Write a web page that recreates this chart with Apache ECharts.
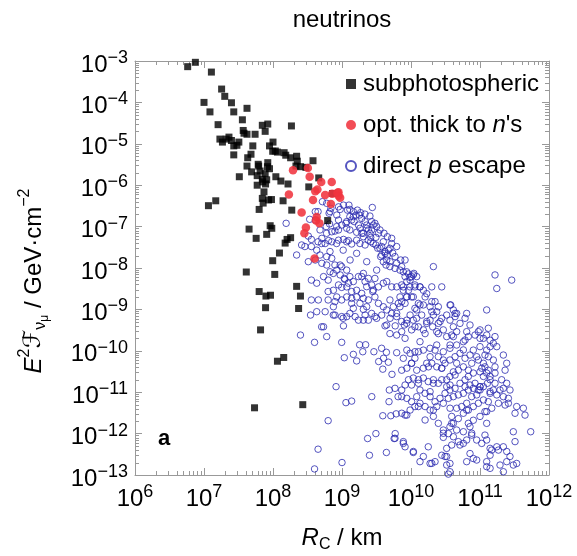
<!DOCTYPE html>
<html>
<head>
<meta charset="utf-8">
<script src="https://cdn.jsdelivr.net/npm/echarts@6/dist/echarts.min.js"></script>
<style>html,body{margin:0;padding:0;background:#fff}#chart{width:577px;height:556px}</style>
</head>
<body>
<div id="chart"></div>
<script>
// ---- data (R_C in km, E^2 F in GeV cm^-2) ----
const xTickExponents = [6, 7, 8, 9, 10, 11, 12];
const yTickExponents = [-13, -12, -11, -10, -9, -8, -7, -6, -5, -4, -3];
const seriesNames = ['subphotospheric', "opt. thick to n's", 'direct p escape'];

const subphotospheric = [
[5.8e6,7.3e-4],[7.5e6,9.3e-4],[1.28e7,5.4e-4],[1.8e7,2.1e-4],[2.0e7,1.4e-4],[2.5e7,9.8e-5],[2.7e7,5.9e-5],[1.0e7,1.0e-4],[1.22e7,5.9e-5],[1.6e7,2.9e-5],
[4.2e7,7.2e-5],[3.6e7,3.8e-5],[1.7e7,1.3e-5],[1.85e7,1.1e-5],[2.1e7,1.3e-5],[2.3e7,1.45e-5],[2.5e7,1.2e-5],[2.7e7,8.9e-6],[3.0e7,9.2e-6],[3.2e7,1.1e-5],
[3.7e7,2.1e-5],[3.8e7,1.8e-5],[4.2e7,1.7e-5],[2.7e7,5.4e-6],[4.2e7,2.9e-6],[4.3e7,4.6e-6],[4.8e7,5.6e-6],[5.1e7,8.9e-6],[5.5e7,1.7e-5],[7.0e7,2.8e-5],
[8.4e7,3.0e-5],[7.7e7,2.0e-5],[1.85e8,2.7e-5],[8.9e7,8.9e-6],[1.0e8,1.1e-5],[9.9e7,6.6e-6],[1.08e8,6.7e-6],[1.16e8,6.3e-6],[1.45e8,6.1e-6],[1.53e8,5.3e-6],
[1.8e8,4.6e-6],[2.2e8,5.0e-6],[2.25e8,3.8e-6],[2.15e8,2.9e-6],[2.5e8,2.8e-6],[3.0e8,2.7e-6],[3.8e8,3.9e-6],[3.25e7,1.6e-6],[4.9e7,2.1e-6],[5.9e7,1.7e-6],
[6.1e7,3.2e-6],[6.2e7,2.9e-6],[6.5e7,2.2e-6],[8.4e7,3.5e-6],[8.3e7,2.8e-6],[8.9e7,2.5e-6],[7.7e7,1.9e-6],[7.0e7,1.4e-6],[7.1e7,1.2e-6],[7.8e7,1.07e-6],
[8.1e7,1.35e-6],[7.4e7,6.9e-7],[5.9e7,1.0e-6],[1.1e8,1.6e-6],[1.3e8,1.26e-6],[1.65e8,1.07e-6],[9.5e7,4.5e-7],[8.6e7,4.4e-7],[7.2e7,3.7e-7],[7.0e7,4.8e-7],
[1.4e8,4.2e-7],[6.3e7,2.6e-7],[3.3e8,9.1e-7],[4.6e8,1.5e-6],[1.87e8,2.5e-7],[1.16e7,3.2e-7],[1.48e7,4.2e-7],[4.5e7,8.7e-8],[5.7e7,5.2e-8],[8.1e7,6.5e-8],
[9.1e7,1.05e-7],[9.6e7,9.1e-8],[1.6e8,4.9e-8],[1.8e8,5.4e-8],[1.5e8,4.0e-8],[1.24e8,2.3e-8],[9.9e7,1.5e-8],[4.1e7,8.0e-9],[1.06e8,7.0e-9],[2.2e8,3.6e-9],
[2.5e8,2.1e-9],[6.3e7,2.7e-9],[7.9e7,2.1e-9],[9.2e7,2.2e-9],[6.2e8,1.4e-7],[7.3e8,6.3e-7],[7.8e7,1.1e-9],[2.35e8,1.05e-9],[6.6e7,3.2e-10],[1.16e8,5.6e-11],
[1.43e8,6.9e-11],[5.4e7,4.2e-12],[2.7e8,5.0e-12]
];

const optThickToNeutrons = [
[1.95e8,2.3e-6],[3.2e8,2.6e-6],[3.4e8,1.6e-6],[5.0e8,1.2e-6],[7.1e8,1.2e-6],[4.1e8,7.1e-7],[4.4e8,7.9e-7],[1.7e8,6.0e-7],[7.2e8,6.2e-7],[8.9e8,6.8e-7],
[9.4e8,5.0e-7],[6.9e8,3.5e-7],[3.8e8,4.4e-7],[2.6e8,2.2e-7],[4.3e8,1.7e-7],[4.7e8,1.2e-7],[4.2e8,1.4e-7],[3.0e8,9.5e-8],[2.85e8,6.9e-8],[4.0e8,1.7e-8],
[5.7e8,5.8e-7],[8.6e8,6.6e-7],[8.9e8,5.6e-7]
];

const directProtonEscape = [
[5.2e8,4.0e-7],[6.0e8,3.65e-7],[6.9e8,2.76e-7],[8.9e8,3.0e-7],[9.4e8,2.6e-7],[1.05e9,3.3e-7],[1.26e9,3.3e-7],[1.2e9,2.5e-7],[1.3e9,2.6e-7],[1.46e9,2.3e-7],
[1.67e9,2.5e-7],[1.6e9,1.9e-7],[1.79e9,1.9e-7],[1.93e9,1.58e-7],[2.16e9,1.32e-7],[2.28e9,9.1e-8],[2.41e9,8.3e-8],[2.69e9,8.3e-8],[2.84e9,1.09e-7],[2.75e9,2.9e-7],
[4.5e8,2.3e-7],[4.1e8,2.3e-7],[6.7e8,2.3e-7],[6.5e8,2.1e-7],[8.4e8,1.9e-7],[8.9e8,1.44e-7],[1.3e9,1.74e-7],[1.38e9,1.44e-7],[1.5e9,1.32e-7],[1.73e9,1.09e-7],
[1.82e9,9.1e-8],[1.14e9,1.2e-7],[9.9e8,1.09e-7],[1.17e9,9.1e-8],[1.3e9,8.3e-8],[6.6e8,1.16e-7],[5.9e8,1.0e-7],[4.8e8,8.3e-8],[7.1e8,7.5e-8],[7.9e8,7.8e-8],
[8.9e8,8.3e-8],[1.63e9,7.3e-8],[1.93e9,6.9e-8],[2.04e9,5.7e-8],[2.61e9,5.5e-8],[3.1e9,5.5e-8],[3.37e9,6.9e-8],[2.55e9,6.9e-8],[3.4e8,1.5e-7],[4.1e8,1.44e-7],
[1.55e8,1.2e-7],[3.25e8,5.9e-8],[3.6e8,4.9e-8],[4.5e8,4.3e-8],[5.1e8,5.2e-8],[5.7e8,3.9e-8],[6.4e8,4.6e-8],[7.1e8,4.3e-8],[8.9e8,4.7e-8],[1.05e9,4.9e-8],
[1.24e9,4.6e-8],[1.38e9,3.8e-8],[1.63e9,4.7e-8],[1.82e9,3.9e-8],[2.16e9,3.6e-8],[2.61e9,4.3e-8],[3.1e9,3.6e-8],[3.29e9,3.0e-8],[3.76e9,3.3e-8],[3.97e9,4.3e-8],
[5.25e9,5.2e-8],[4.7e9,2.7e-8],[5.43e9,2.3e-8],[4.2e9,2.26e-8],[3.76e9,2.06e-8],[4.45e9,1.56e-8],[4.97e9,1.42e-8],[5.86e9,1.88e-8],[6.2e9,1.3e-8],[7.33e9,1.08e-8],
[7.1e9,1.56e-8],[7.74e9,8.1e-9],[8.2e9,6.2e-9],[9.2e9,7.2e-9],[1.02e10,6.2e-9],[1.1e10,7.4e-9],[9.7e9,5.1e-9],[8.7e9,4.7e-9],[7.33e9,3.9e-9],[6.2e9,3.5e-9],
[5.25e9,3.5e-9],[4.45e9,4.7e-9],[3.97e9,4.3e-9],[3.37e9,3.5e-9],[2.69e9,3.9e-9],[2.41e9,5.6e-9],[2.16e9,4.7e-9],[2.04e9,7.4e-9],[1.73e9,6.2e-9],[1.46e9,4.7e-9],
[1.3e9,6.2e-9],[1.17e9,8.9e-9],[9.9e8,1.08e-8],[7.9e8,1.18e-8],[7.1e8,1.71e-8],[6.0e8,1.88e-8],[4.8e8,2.06e-8],[4.3e8,2.7e-8],[3.6e8,3.3e-8],[2.9e8,3.3e-8],
[2.6e8,3.6e-8],[2.2e8,2.06e-8],[3.25e8,1.42e-8],[4.1e8,1.56e-8],[5.1e8,1.3e-8],[6.0e8,1.18e-8],[6.7e8,8.1e-9],[8.4e8,8.9e-9],[9.4e8,6.8e-9],[1.08e9,5.6e-9],
[1.24e9,4.3e-9],[1.63e9,2.9e-9],[1.38e9,2.7e-9],[1.17e9,3.5e-9],[9.9e8,3.4e-9],[8.9e8,3.9e-9],[6.3e8,5.1e-9],[5.4e8,6.2e-9],[4.3e8,4.3e-9],[3.6e8,5.1e-9],
[7.5e8,2.9e-9],[6.3e8,2.7e-9],[4.3e8,8.8e-10],[5.7e8,8.8e-10],[7.9e8,7.3e-10],[9.9e8,6.7e-10],[1.17e9,6.7e-10],[1.3e9,8.0e-10],[1.55e9,6.7e-10],[1.73e9,5.5e-10],
[2.04e9,5.5e-10],[2.16e9,7.3e-10],[2.41e9,5.5e-10],[1.82e9,1.4e-9],[2.04e9,1.85e-9],[1.63e9,2.0e-9],[1.38e9,1.4e-9],[9.9e8,1.69e-9],[1.17e9,2.0e-9],[8.4e8,2.0e-9],
[7.5e8,1.16e-9],[6.3e8,1.69e-9],[3.6e8,1.69e-9],[3.5e8,7.3e-10],
[7.33e9,2.9e-10],[8.0e9,4.2e-10],[8.7e9,5.5e-10],[9.7e9,7.3e-10],[1.21e10,6.1e-10],[1.28e10,3.8e-10],[1.51e10,3.2e-10],[1.69e10,4.6e-10],[1.89e10,5.5e-10],[2.06e10,3.8e-10],
[1.43e10,7.3e-10],[1.14e10,1.06e-9],[1.28e10,1.4e-9],[1.51e10,1.28e-9],[1.6e10,2.0e-9],[1.89e10,1.16e-9],[2.11e10,7.3e-10],[2.36e10,8.8e-10],[2.49e10,1.16e-9],[2.0e10,1.54e-9],
[1.69e10,2.4e-9],[1.51e10,2.9e-9],[1.35e10,3.5e-9],[1.14e10,3.5e-9],[9.2e9,2.9e-9],[8.7e9,2.0e-9],[7.33e9,1.54e-9],[6.93e9,1.16e-9],[6.2e9,8.0e-10],[4.97e9,6.1e-10],
[4.45e9,9.7e-10],[3.97e9,1.16e-9],[3.37e9,1.4e-9],[3.0e9,2.0e-9],[2.79e9,2.7e-9],[2.41e9,1.69e-9],[2.28e9,1.16e-9],[2.69e9,8.0e-10],[3.0e9,6.7e-10],[3.76e9,7.3e-10],
[2.79e10,3.5e-9],[2.11e10,1.08e-8],[3.76e10,1.28e-9],[4.11e10,9.7e-10],[4.35e10,6.7e-10],[3.67e10,5.5e-10],[3.29e10,7.3e-10],[2.79e10,6.1e-10],[2.49e10,4.6e-10],[2.36e10,2.9e-10],
[2.94e10,3.2e-10],[3.29e10,2.2e-10],[3.89e10,2.4e-10],[4.59e10,2.9e-10],[5.13e10,4.6e-10],[6.07e10,6.1e-10],[6.41e10,8.0e-10],[4.59e10,8.0e-10],[7.16e10,4.2e-10],[1.0e11,3.2e-10],
[8.47e10,2.4e-10],[6.78e10,2.2e-10],[5.74e10,1.66e-10],[4.59e10,1.38e-10],[3.67e10,1.15e-10],[2.94e10,9.5e-11],[2.49e10,7.2e-11],[2.23e10,1.04e-10],[1.89e10,1.15e-10],[1.51e10,1.04e-10],
[1.28e10,9.5e-11],[1.14e10,6.6e-11],[9.7e9,8.7e-11],[8.7e9,1.04e-10],[7.74e9,6.6e-11],[7.33e9,3.4e-11],[8.7e9,3.8e-11],[1.02e10,5.0e-11],[1.21e10,3.4e-11],[1.51e10,3.8e-11],
[1.69e10,5.0e-11],[2.0e10,5.0e-11],[2.36e10,4.1e-11],[2.79e10,3.8e-11],[3.11e10,5.0e-11],[3.67e10,6.0e-11],[4.35e10,7.2e-11],[5.13e10,8.7e-11],[6.07e10,6.6e-11],[7.16e10,7.9e-11],
[8.0e10,1.04e-10],[1.0e11,1.26e-10],[1.12e11,2.0e-10],[1.25e11,2.4e-10],[1.4e11,1.8e-10],[1.65e11,2.2e-10],[1.75e11,1.26e-10],[1.25e11,9.7e-10],[1.75e11,3.2e-9],[1.65e11,6.8e-9],
[2.88e11,5.1e-9],[9.46e10,6.0e-11],[1.12e11,5.0e-11],[1.32e11,3.4e-11],[1.12e11,2.4e-11],[1.0e11,3.1e-11],[8.0e10,2.9e-11],[6.78e10,3.4e-11],[5.74e10,4.1e-11],[4.85e10,3.4e-11],
[4.11e10,3.1e-11],[3.67e10,2.4e-11],[3.29e10,2.0e-11],[2.79e10,2.0e-11],[2.49e10,1.64e-11],[2.11e10,2.0e-11],[1.78e10,1.8e-11],[1.51e10,2.2e-11],[1.28e10,1.64e-11],[1.08e10,2.2e-11],
[9.2e9,2.0e-11],[8.2e9,1.49e-11],[7.33e9,1.13e-11],[7.33e9,3.1e-12],[8.2e9,4.8e-13],[7.74e9,6.4e-13],[1.08e10,3.5e-13],[1.51e10,2.8e-13],[1.78e10,4.8e-13],[1.89e10,1.9e-13],
[2.79e10,3.0e-13],[3.29e10,2.8e-13],[2.94e10,8.1e-13],[3.29e10,4.4e-13],[3.89e10,5.3e-13],[5.13e10,5.3e-13],[4.11e10,8.4e-13],[5.74e10,5.8e-13],[6.41e10,7.0e-13],[7.57e10,9.2e-13],
[8.95e10,7.0e-13],[1.06e11,5.8e-13],[1.25e11,7.0e-13],[1.48e11,4.0e-13],[1.4e11,3.0e-13],[1.85e11,4.0e-13],[2.18e11,4.8e-13],[2.44e11,3.7e-13],[2.72e11,2.8e-13],[2.44e11,2.1e-13],
[3.04e11,1.74e-13],[3.4e11,1.9e-13],[3.22e11,6.4e-13],[3.04e11,1.11e-12],[3.22e11,3.1e-12],[4.25e11,4.1e-12],[4.49e11,2.8e-12],[5.43e11,1.11e-12],[2.31e11,4.9e-12],[2.58e11,7.1e-12],
[2.18e11,7.8e-12],[1.85e11,5.4e-12],[1.56e11,1.13e-11],[1.65e11,1.64e-11],[1.4e11,2.0e-11],[1.28e11,1.64e-11],[1.12e11,1.36e-11],[1.0e11,1.13e-11],[8.95e10,8.6e-12],[7.57e10,7.8e-12],
[6.41e10,5.4e-12],[5.43e10,4.5e-12],[4.59e10,4.1e-12],[3.89e10,2.6e-12],[4.11e10,1.77e-12],[4.85e10,2.3e-12],[5.74e10,3.1e-12],[6.78e10,3.7e-12],[8.0e10,4.5e-12],[9.46e10,5.4e-12],
[1.12e11,6.5e-12],[1.32e11,5.9e-12],[1.48e11,4.1e-12],[1.18e11,3.4e-12],[1.0e11,2.6e-12],[8.0e10,2.1e-12],[6.78e10,1.77e-12],[5.74e10,1.11e-12],[4.59e10,1.22e-12],[3.67e10,1.47e-12],
[3.48e10,1.0e-12],[2.94e10,1.22e-12],[2.49e10,1.77e-12],[2.11e10,2.6e-12],[1.89e10,3.7e-12],[1.6e10,4.5e-12],[1.35e10,5.4e-12],[1.14e10,4.5e-12],[9.7e9,3.7e-12],[8.7e9,2.8e-12],
[3.67e10,1.9e-13],[6.41e10,2.1e-13],[8.95e10,2.3e-13],[1.25e11,2.1e-13],[1.4e11,1.45e-13],[1.95e11,1.74e-13],[2.18e11,1.2e-13],[3.67e10,1.2e-13],[3.48e10,1.05e-13],[2.23e10,2.1e-13],
[1.35e10,2.1e-13],[2.44e11,5.0e-11],[2.31e11,3.4e-11],[1.65e11,4.1e-11],[2.06e11,2.0e-11],[2.44e11,1.64e-11],[1.56e11,6.0e-11],[1.32e11,7.2e-11],[1.25e11,1.04e-10],[1.4e11,1.26e-10],
[2.18e11,7.9e-11],[2.72e11,1.13e-11],[2.58e11,5.4e-12],[3.4e11,4.5e-12],[1.65e11,2.9e-11],[1.18e11,4.1e-11],[1.4e11,2.4e-11],[8.47e10,1.64e-11],[7.16e10,1.49e-11],[6.07e10,2.0e-11],
[5.13e10,1.64e-11],[4.35e10,1.24e-11],[3.67e10,1.13e-11],[3.11e10,9.4e-12],[2.63e10,7.1e-12],[2.23e10,5.9e-12],[1.89e10,7.8e-12],[1.6e10,9.4e-12],[1.35e10,1.13e-11],[1.21e10,7.8e-12],
[1.02e10,5.9e-12],[8.7e9,7.1e-12],[7.33e9,7.8e-12],[2.36e10,4.5e-12],[2.94e10,5.4e-12],[3.48e10,7.1e-12],[4.11e10,7.8e-12],[4.85e10,8.6e-12],[5.74e10,9.4e-12],[6.78e10,1.13e-11],
[8.0e10,1.24e-11],[1.0e11,1.36e-11],[1.75e11,8.6e-12],[1.95e11,1.13e-11],[2.18e11,1.24e-11],[1.4e11,9.4e-12],
[5.4e8,3.8e-10],[1.05e9,4.0e-10],[2.5e8,2.4e-10],[6.0e8,2.2e-10],[4.0e8,1.6e-10],[9.9e8,1.6e-10],[1.8e9,1.4e-10],[2.2e9,1.4e-10],[1.46e9,8.2e-11],[2.0e9,9.5e-11],
[1.08e9,6.8e-11],[1.63e9,5.7e-11],[2.9e9,9.5e-11],[3.75e9,1.15e-10],[4.4e9,9.2e-11],[3.4e9,5.5e-11],[4.0e9,6.6e-11],[4.7e9,5.3e-11],[3.9e9,3.6e-11],[5.3e9,2.7e-11],
[8.2e8,1.36e-11],[1.14e9,5.6e-12],[1.38e9,6.1e-12],[2.7e9,7.8e-12],[4.85e9,1.13e-11],[4.8e9,5.9e-12],[6.5e9,7.8e-12],[6.3e8,2.05e-12],[3.9e9,2.7e-12],[5.1e9,2.7e-12],
[6.1e9,3.0e-12],[3.1e9,1.0e-12],[2.35e9,7.6e-13],[5.9e9,1.0e-12],[5.7e9,7.6e-13],[4.5e8,4.2e-13],[2.5e9,3.0e-13],[4.4e9,3.5e-13],[1.0e9,2.0e-13],[4.0e8,1.4e-13],
[4.95e9,2.6e-10],[6.2e9,2.4e-10],[6.2e9,9.0e-11],[5.9e9,4.0e-10],[4.2e9,4.0e-10],
[1.86e9,2.17e-7],[2.15e9,2.0e-7],[2.54e9,1.8e-7],[2.69e9,1.32e-7],[3.0e9,1.2e-7],[3.18e9,1.0e-7],[3.55e9,8.3e-8],[4.06e9,6.9e-8],[4.54e9,5.7e-8],[5.25e9,3.9e-8],
[4.95e9,3.0e-8],[6.2e9,3.3e-8],[4.54e9,2.06e-8],[3.63e9,1.88e-8],[3.97e9,1.42e-8],[4.34e9,1.18e-8],[4.95e9,1.08e-8],[5.86e9,9.8e-9],[6.92e9,8.9e-9],[8.65e9,8.1e-9],
[9.66e9,5.95e-9],[1.21e10,6.2e-9],[1.14e10,3.9e-9],[9.66e9,3.5e-9],[7.74e9,2.9e-9],[6.92e9,2.0e-9],[8.65e9,2.0e-9],[1.08e10,2.0e-9],[6.55e9,1.4e-9],[5.55e9,1.16e-9],
[4.95e9,1.69e-9],[5.25e9,8.0e-10],[6.2e9,6.7e-10],[7.31e9,5.1e-10],[8.65e9,4.6e-10],[1.14e10,3.8e-10],[4.44e9,4.2e-10],[3.18e9,6.1e-10],[2.04e9,1.0e-9],[1.46e9,1.06e-9],
[1.04e9,6.1e-10],[7.48e8,7.3e-10],[5.07e8,3.8e-10],[4.54e8,1.69e-9],[7.9e8,1.54e-9],[1.38e9,1.85e-9],[1.93e9,2.44e-9],[2.84e9,2.94e-9],[2.28e9,3.54e-9],[7.48e8,7.4e-9],
[1.1e9,5.3e-9],[1.93e9,6.2e-9],[3.0e9,5.6e-9],[3.18e9,8.9e-9],[2.28e9,1.42e-8],[1.63e9,2.26e-8],[1.17e9,4.3e-8],[8.36e8,3.9e-8],[5.07e8,3.9e-8],[6.7e8,2.5e-8],
[1.04e9,2.7e-8],[1.31e9,1.56e-8],[9.4e8,1.18e-8],[5.98e8,6.9e-8],[8.36e8,1.0e-7],[1.17e9,1.32e-7],[1.46e9,1.74e-7],[2.28e9,1.09e-7],[2.04e9,6.9e-8],[2.4e9,4.7e-8],
[2.84e9,3.9e-8],[3.55e9,3.0e-8],[4.2e9,2.5e-8],
[8.2e9,1.56e-8],[1.08e10,6.8e-9],[7.74e9,3.5e-9],[1.35e10,3.5e-9],[2.0e10,3.5e-9],[1.02e10,2.0e-9],[8.2e9,1.4e-9],[1.35e10,1.28e-9],[2.23e10,1.54e-9],[1.21e10,9.7e-10],
[2.0e10,8.8e-10],[3.68e10,1.28e-9],[4.35e10,8.0e-10],[1.08e10,5.5e-10],[1.69e10,5.1e-10],[2.64e10,5.1e-10],[4.11e10,3.8e-10],[6.41e10,2.9e-10],[9.46e10,2.9e-10],[1.32e11,3.5e-10],
[1.02e10,3.2e-10],[1.6e10,2.6e-10],[2.49e10,2.6e-10],[4.11e10,2.2e-10],[6.07e10,1.82e-10],[1.0e11,2.0e-10],[1.56e11,1.52e-10],[8.2e9,2.0e-10],[1.35e10,1.66e-10],[2.36e10,1.38e-10],
[3.68e10,1.38e-10],[5.74e10,1.05e-10],[8.95e10,7.2e-11],[1.18e11,7.9e-11],[1.14e10,9.5e-11],[1.89e10,7.2e-11],[2.94e10,6.0e-11],[4.59e10,5.0e-11],[7.59e10,5.0e-11],[1.06e11,3.8e-11],
[1.02e10,5.0e-11],[1.79e10,4.1e-11],[2.79e10,3.8e-11],[4.35e10,2.6e-11],[6.78e10,2.4e-11],[1.25e11,2.9e-11],[1.28e10,2.0e-11],[2.11e10,1.64e-11],[3.68e10,1.49e-11],[1.0e11,1.36e-11],
[5.86e9,1.24e-11],[1.02e10,1.49e-11],[1.89e10,1.03e-11],[3.29e10,1.36e-11],[6.07e10,1.36e-11],[9.46e10,1.13e-11],[1.4e11,1.03e-11],[8.2e9,2.8e-12],[1.28e10,4.5e-12],[2.11e10,3.7e-12],
[3.68e10,4.1e-12],[6.41e10,3.7e-12],[1.25e11,3.4e-12],[1.6e10,2.13e-12],[3.89e10,1.77e-12],[7.16e10,1.47e-12],[1.25e11,1.77e-12],[7.74e9,5.8e-13],[5.86e9,7.7e-13],[1.08e10,3.7e-13],
[2.94e10,1.02e-12],[4.85e10,6.4e-13],[7.59e10,1.02e-12],[1.18e11,9.2e-13],[1.4e11,4.4e-13],[7.16e10,3.3e-13],[3.11e10,2.8e-13],[3.29e10,1.74e-13],[2.0e10,1.91e-13],[8.0e10,2.5e-13],
[1.25e11,1.59e-13],[1.75e11,4.8e-13]
];

// ---- chart ----
const FONT = '"Liberation Sans", Arial, "DejaVu Sans", sans-serif';
const FRAME = '#999999';
const chart = echarts.init(document.getElementById('chart'), null, {renderer: 'canvas'});

const xMin = Math.pow(10, xTickExponents[0]), xMax = Math.pow(10, xTickExponents[xTickExponents.length - 1]);
const yMin = Math.pow(10, yTickExponents[0]), yMax = Math.pow(10, yTickExponents[yTickExponents.length - 1]);

function powLabel(v) {
  const e = Math.round(Math.log10(v));
  return '{b|10}{s|' + (e < 0 ? '\u2212' : '') + Math.abs(e) + '}';
}
const labelRich = {
  b: {fontSize: 24, fontFamily: FONT, color: '#000', lineHeight: 24, padding: [8, 0, 0, 0]},
  s: {fontSize: 18, fontFamily: FONT, color: '#000', lineHeight: 18, verticalAlign: 'top'}
};

function makeAxis(base, extra) { return Object.assign({}, base, extra); }

const xBase = {
  type: 'log', logBase: 10, min: xMin, max: xMax, interval: 1,
  axisLine: {show: true, lineStyle: {color: FRAME, width: 1}},
  axisTick: {show: true, inside: true, length: 7, lineStyle: {color: FRAME, width: 1}},
  splitLine: {show: false}, minorTick: {show: false}, minorSplitLine: {show: false}
};
const yBase = {
  type: 'log', logBase: 10, min: yMin, max: yMax, interval: 1,
  axisLine: {show: true, lineStyle: {color: FRAME, width: 1}},
  axisTick: {show: true, inside: true, length: 7, lineStyle: {color: FRAME, width: 1}},
  splitLine: {show: false}, minorTick: {show: false}, minorSplitLine: {show: false}
};

const option = {
  animation: false,
  backgroundColor: '#fff',
  title: {
    text: 'neutrinos', left: 342, top: 8, textAlign: 'center', padding: 0,
    textStyle: {fontFamily: FONT, fontSize: 24, fontWeight: 'normal', color: '#000'}
  },
  legend: {
    left: 345, top: 72, orient: 'vertical', itemWidth: 10, itemHeight: 10, itemGap: 17,
    selectedMode: false, padding: 0,
    data: [
      {name: seriesNames[0], icon: 'rect'},
      {name: seriesNames[1], icon: 'circle'},
      {name: seriesNames[2], icon: 'circle'}
    ],
    formatter: function (name) {
      if (name === seriesNames[1]) return "opt. thick to {i|n}'s";
      if (name === seriesNames[2]) return 'direct {i|p} escape';
      return name;
    },
    textStyle: {
      fontFamily: FONT, fontSize: 24, color: '#000', lineHeight: 24, padding: [0, 0, 0, 2],
      rich: {i: {fontFamily: FONT, fontSize: 24, fontStyle: 'italic', color: '#000', lineHeight: 24}}
    }
  },
  grid: {left: 135, right: 28, top: 61, bottom: 81, containLabel: false, outerBoundsMode: 'none'},
  xAxis: [
    makeAxis(xBase, {
      position: 'bottom',
      axisLabel: {show: true, margin: 8, formatter: powLabel, rich: labelRich, showMinLabel: true, showMaxLabel: true},
      name: '{it|R}{sub|C}{n| / km}', nameLocation: 'middle', nameGap: 48, nameMoveOverlap: false,
      nameTextStyle: {
        fontFamily: FONT, fontSize: 24, color: '#000',
        rich: {
          it: {fontFamily: FONT, fontSize: 24, fontStyle: 'italic', color: '#000', lineHeight: 30},
          sub: {fontFamily: FONT, fontSize: 16, color: '#000', lineHeight: 16, verticalAlign: 'bottom'},
          n: {fontFamily: FONT, fontSize: 24, color: '#000', lineHeight: 30}
        }
      }
    }),
    makeAxis(xBase, {position: 'top', axisLabel: {show: false}})
  ],
  yAxis: [
    makeAxis(yBase, {
      position: 'left',
      axisLabel: {show: true, margin: 7, formatter: powLabel, rich: labelRich, showMinLabel: true, showMaxLabel: true},
      name: '{it|E}{sup|2}{sf|\u2131}{sub|\u03bd}{ssub|\u03bc}{n| / GeV\u00b7cm}{sup|\u22122}',
      nameLocation: 'middle', nameRotate: 90, nameGap: 84, nameMoveOverlap: false,
      nameTextStyle: {
        fontFamily: FONT, fontSize: 24, color: '#000', padding: [0, 26, 0, 0],
        rich: {
          it: {fontFamily: FONT, fontSize: 24, fontStyle: 'italic', color: '#000', lineHeight: 34},
          sf: {fontFamily: '"DejaVu Serif", "DejaVu Sans", serif', fontSize: 24, fontStyle: 'italic', color: '#000', lineHeight: 34},
          sup: {fontFamily: FONT, fontSize: 16, color: '#000', lineHeight: 16, verticalAlign: 'top'},
          sub: {fontFamily: FONT, fontSize: 16, color: '#000', lineHeight: 16, verticalAlign: 'bottom', padding: [0, 0, 2, 0]},
          ssub: {fontFamily: FONT, fontSize: 12, color: '#000', lineHeight: 12, verticalAlign: 'bottom'},
          n: {fontFamily: FONT, fontSize: 24, color: '#000', lineHeight: 34}
        }
      }
    }),
    makeAxis(yBase, {position: 'right', axisLabel: {show: false}})
  ],
  series: [
    {
      name: seriesNames[0], type: 'scatter', xAxisIndex: 0, yAxisIndex: 0, z: 3,
      symbol: 'rect', symbolSize: 7, data: subphotospheric,
      itemStyle: {color: '#000000'}, emphasis: {disabled: true}
    },
    {
      name: seriesNames[1], type: 'scatter', xAxisIndex: 0, yAxisIndex: 0, z: 4,
      symbol: 'circle', symbolSize: 8.5, data: optThickToNeutrons,
      itemStyle: {color: '#f0343f', opacity: 0.88}, emphasis: {disabled: true}
    },
    {
      name: seriesNames[2], type: 'scatter', xAxisIndex: 0, yAxisIndex: 0, z: 2,
      symbol: 'circle', symbolSize: 6.5, data: directProtonEscape,
      itemStyle: {color: 'rgba(255,255,255,0)', borderColor: '#2a2ab0', borderWidth: 1}, emphasis: {disabled: true}
    }
  ]
};
chart.setOption(option);

// minor ticks (2..9 x 10^k) on all four frame sides, positioned through the axis scales
function addMinorTicks() {
  const xa = v => chart.convertToPixel({xAxisIndex: 0}, v);
  const ya = v => chart.convertToPixel({yAxisIndex: 0}, v);
  const L = xa(xMin), R = xa(xMax), B = ya(yMin), T = ya(yMax);
  const st = {stroke: FRAME, lineWidth: 1};
  const els = [];
  const len = 4;
  for (let i = 0; i < xTickExponents.length - 1; i++) {
    for (let m = 2; m <= 9; m++) {
      const p = Math.round(xa(m * Math.pow(10, xTickExponents[i]))) + 0.5;
      els.push({type: 'line', silent: true, shape: {x1: p, y1: B, x2: p, y2: B - len}, style: st});
      els.push({type: 'line', silent: true, shape: {x1: p, y1: T, x2: p, y2: T + len}, style: st});
    }
  }
  for (let i = 0; i < yTickExponents.length - 1; i++) {
    for (let m = 2; m <= 9; m++) {
      const p = Math.round(ya(m * Math.pow(10, yTickExponents[i]))) + 0.5;
      els.push({type: 'line', silent: true, shape: {x1: L, y1: p, x2: L + len, y2: p}, style: st});
      els.push({type: 'line', silent: true, shape: {x1: R, y1: p, x2: R - len, y2: p}, style: st});
    }
  }
  els.push({type: 'text', silent: true, left: 158, top: 428,
    style: {text: 'a', fontFamily: FONT, fontSize: 22, fontWeight: 'bold', fill: '#000'}});
  chart.setOption({graphic: {elements: els}});
}
addMinorTicks();
</script>
</body>
</html>
